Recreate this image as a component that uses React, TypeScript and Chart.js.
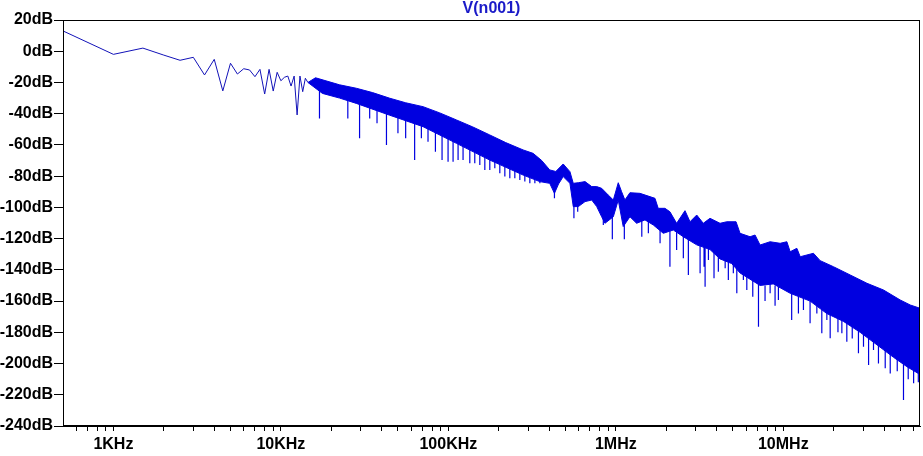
import { useEffect, useRef } from 'react';
import { Chart, registerables } from 'chart.js';
Chart.register(...registerables);

const TITLE = 'V(n001)';
const TRACE = '#0000e0';
const TRACE_THIN = '#1212b8';

// Low-frequency individual FFT bins (Hz, dB)
const zigFreq = [500, 1000, 1500, 2000, 2500, 3000, 3500, 4000, 4500, 5000, 5500, 6000, 6500, 7000, 7500, 8000, 8500, 9000, 9500, 10000, 10500, 11000, 11500, 12000, 12500, 13000, 13500, 14000, 14500];
const zigDb = [13, -2, 2, -2.5, -5.8, -3.9, -15.2, -5.2, -25.4, -7.7, -14.6, -11.2, -12, -16.3, -11.6, -27.4, -11.6, -25.5, -13.5, -18.9, -16.7, -15.9, -22.3, -15.9, -40.8, -15.9, -25.9, -17.3, -20];

// Upper edge of the dense spectrum band
const upperFreq = [14500, 16100, 22400, 28200, 35300, 44700, 55600, 70600, 88900, 111800, 140000, 176700, 220000, 279500, 320600, 361000, 403000, 438000, 485000, 532000, 557000, 597000, 655000, 718000, 769000, 823000, 901000, 966000, 1034000, 1083000, 1133000, 1214000, 1393000, 1713000, 1791000, 1964000, 2104000, 2307000, 2588000, 2773000, 3041000, 3328000, 3650000, 4190000, 4595000, 5223000, 5517000, 6333000, 6781000, 7266000, 8341000, 9575000, 10500000, 10990000, 12050000, 12620000, 15140000, 16600000, 19940000, 25100000, 31580000, 39660000, 49890000, 57280000, 65500000];
const upperDb = [-20, -17, -21.5, -23.7, -26.5, -30.1, -33, -35.5, -39.5, -44, -48.5, -53.6, -58.5, -63.2, -65.4, -70, -76, -77, -72.2, -77.1, -84.6, -84.2, -83.5, -86.7, -86.7, -87.8, -92.1, -95.3, -84.2, -90, -95.3, -90.6, -91, -94.2, -100.6, -100.6, -102.8, -110.2, -102.1, -109.2, -104.9, -110.2, -107, -110.2, -109.2, -109.2, -116.6, -118.8, -117.7, -124.1, -122, -123, -122, -128.4, -126.2, -131.6, -129.4, -134.1, -138, -143.3, -148.6, -152.9, -159.3, -162.5, -164.6];

// Lower edge of the dense band body
const lowerFreq = [14500, 17700, 22400, 28200, 44700, 70600, 111800, 176700, 279500, 351600, 403000, 430000, 455000, 485000, 532000, 557000, 597000, 655000, 718000, 769000, 823000, 861000, 966000, 1034000, 1107000, 1214000, 1331000, 1493000, 1675000, 1920000, 2204000, 2530000, 3041000, 3650000, 4190000, 4920000, 5517000, 7266000, 8710000, 10990000, 14450000, 18190000, 22860000, 28760000, 36220000, 45500000, 54700000, 65500000];
const lowerDb = [-20, -27, -30, -33.4, -41, -48.3, -59, -69.7, -79.3, -83.5, -84.6, -91, -85, -80.3, -84.6, -99.5, -99.5, -96.3, -95.3, -99.5, -106, -110.2, -106, -95.3, -112.3, -106, -110.2, -108, -111.3, -116.6, -114.5, -118.8, -124, -127, -133, -136, -142, -150, -149, -155, -160, -168, -173, -180, -188, -196, -202, -207];

// Deep notches (downward spikes): frequency, top, bottom
const spikeFreq = [17000, 25100, 29500, 33900, 37500, 42700, 50000, 55600, 62900, 69000, 75600, 83700, 91700, 99600, 106700, 114300, 122400, 134300, 143800, 154100, 165100, 176800, 189400, 202900, 217400, 232800, 249400, 267200, 286200, 306600, 328500, 351900, 430000, 562000, 592000, 842000, 953000, 1124000, 1429000, 1564000, 1837000, 2104000, 2307000, 2530000, 2711000, 3185000, 3363000, 3412000, 3572000, 3857000, 4094000, 4496000, 4697000, 5031000, 5277000, 5775000, 6055000, 6572000, 7109000, 7780000, 8341000, 8930000, 9349000, 11220000, 12310000, 13190000, 14450000, 15860000, 16980000, 18200000, 19050000, 21200000, 22370000, 23950000, 25800000, 28100000, 30120000, 32300000, 34560000, 37000000, 40600000, 43500000, 47900000, 52200000, 55700000, 60000000, 64000000];
const spikeTop = [-25, -30, -32, -33, -35, -38, -41, -43, -45, -47, -49, -51, -53, -53, -55, -56, -58, -60, -61, -63, -64, -66, -67, -69, -70, -72, -73, -75, -76, -77, -78, -79, -88, -98, -98, -105, -105, -110, -108, -108, -114, -115, -115, -118, -118, -122, -124, -125, -125, -127, -130, -133, -134, -136, -138, -140, -142, -145, -148, -150, -149, -150, -151, -155, -157, -158, -160, -162, -165, -166, -168, -171, -172, -174, -176, -178, -181, -182, -185, -187, -190, -192, -195, -198, -202, -203, -205];
const spikeBottom = [-43, -43, -55.8, -43, -46.2, -60, -52.6, -55.8, -69.7, -55.8, -58, -64.4, -69.7, -70.7, -70.7, -69.7, -69.7, -71.8, -71.8, -72.9, -76, -76, -75, -78.2, -80.3, -81.4, -81.4, -82.5, -83.5, -84.6, -84.6, -84.6, -94.2, -107, -102.8, -111.3, -120.4, -120.4, -118.8, -116.6, -123, -138, -127.3, -132.6, -143.3, -142.2, -138, -150.8, -133.7, -145.4, -141.2, -139, -146.5, -142.2, -155, -146.5, -152.9, -157.2, -176.4, -160, -155, -163, -159.3, -172.1, -167.9, -165.7, -174.2, -167.9, -180.6, -172.1, -183.8, -180, -180.6, -186, -184, -193.4, -189.2, -200.9, -191.3, -199.9, -203, -206.3, -205, -223.4, -210, -212.7, -212];

// Axes
const xMin = 500;
const xMax = 65500000;
const xMajorValues = [1e3, 1e4, 1e5, 1e6, 1e7];
const xMajorLabels = ['1KHz', '10KHz', '100KHz', '1MHz', '10MHz'];
const xMinorMultipliers = [2, 3, 4, 5, 6, 7, 8, 9];
const xLeadingMinor = [600, 700, 800, 900];
const yMin = -240;
const yMax = 20;
const yStep = 20;
const yUnit = 'dB';

const FONT = '"Liberation Sans", Arial, sans-serif';

export default function App() {
  const ref = useRef<HTMLCanvasElement>(null);
  useEffect(() => {
    document.body.style.margin = '0';
    const canvas = ref.current;
    if (!canvas) return;

    const xTicks: number[] = [...xLeadingMinor];
    xMajorValues.forEach((d) => {
      xTicks.push(d);
      xMinorMultipliers.forEach((m) => {
        const v = d * m;
        if (v <= xMax) xTicks.push(v);
      });
    });

    const spikeData: any[] = [];
    spikeFreq.forEach((f, i) => {
      spikeData.push({ x: f, y: spikeTop[i] });
      spikeData.push({ x: f, y: spikeBottom[i] });
      spikeData.push({ x: f, y: null });
    });

    const framePlugin = {
      id: 'frame',
      afterDraw(chart: any) {
        const { ctx, chartArea } = chart;
        ctx.save();
        ctx.strokeStyle = '#000';
        ctx.lineWidth = 1;
        ctx.strokeRect(chartArea.left + 0.5, chartArea.top + 0.5, chartArea.right - chartArea.left - 1, chartArea.bottom - chartArea.top - 1);
        ctx.fillStyle = '#1a1ac8';
        ctx.font = `bold 16px ${FONT}`;
        ctx.textAlign = 'center';
        ctx.textBaseline = 'middle';
        ctx.fillText(TITLE, (chartArea.left + chartArea.right) / 2, 9);
        ctx.restore();
      },
    };

    const chart = new Chart(canvas, {
      type: 'line',
      data: {
        datasets: [
          {
            data: zigFreq.map((f, i) => ({ x: f, y: zigDb[i] })),
            borderColor: TRACE_THIN,
            borderWidth: 1,
            pointRadius: 0,
            fill: false,
          },
          {
            data: upperFreq.map((f, i) => ({ x: f, y: upperDb[i] })),
            borderColor: TRACE,
            borderWidth: 1,
            pointRadius: 0,
            fill: false,
          },
          {
            data: lowerFreq.map((f, i) => ({ x: f, y: lowerDb[i] })),
            borderColor: TRACE,
            borderWidth: 1,
            pointRadius: 0,
            backgroundColor: TRACE,
            fill: '-1',
          },
          {
            data: spikeData,
            borderColor: TRACE,
            borderWidth: 1.2,
            pointRadius: 0,
            spanGaps: false,
            fill: false,
          },
        ],
      },
      options: {
        animation: false,
        responsive: false,
        devicePixelRatio: 1,
        layout: { padding: { top: 20, right: 3, left: 0, bottom: 0 } },
        plugins: {
          legend: { display: false },
          tooltip: { enabled: false },
          title: { display: false },
        },
        elements: { point: { radius: 0 }, line: { tension: 0 } },
        scales: {
          x: {
            type: 'logarithmic',
            min: xMin,
            max: xMax,
            grid: { drawOnChartArea: false, drawTicks: true, tickLength: 5, color: '#000', tickColor: '#000' },
            border: { display: true, color: '#000', width: 1 },
            ticks: {
              autoSkip: false,
              maxRotation: 0,
              minRotation: 0,
              padding: 4,
              color: '#000',
              font: { family: FONT, size: 16, weight: 'bold' },
              callback: (v: any) => {
                const idx = xMajorValues.indexOf(Number(v));
                return idx >= 0 ? xMajorLabels[idx] : '';
              },
            },
            afterBuildTicks: (s: any) => {
              s.ticks = xTicks.map((v) => ({ value: v }));
            },
            afterFit: (s: any) => {
              s.height = 30;
            },
          },
          y: {
            type: 'linear',
            min: yMin,
            max: yMax,
            grid: { drawOnChartArea: false, drawTicks: true, tickLength: 9, color: '#000', tickColor: '#000' },
            border: { display: true, color: '#000', width: 1 },
            ticks: {
              stepSize: yStep,
              padding: 1,
              color: '#000',
              font: { family: FONT, size: 16, weight: 'bold' },
              callback: (v: any) => `${v}${yUnit}`,
            },
            afterFit: (s: any) => {
              s.width = 63;
            },
          },
        },
      } as any,
      plugins: [framePlugin],
    });
    return () => chart.destroy();
  }, []);

  return (
    <div style={{ width: 923, height: 456 }}>
      <canvas ref={ref} width={923} height={456} style={{ display: 'block' }} />
    </div>
  );
}
